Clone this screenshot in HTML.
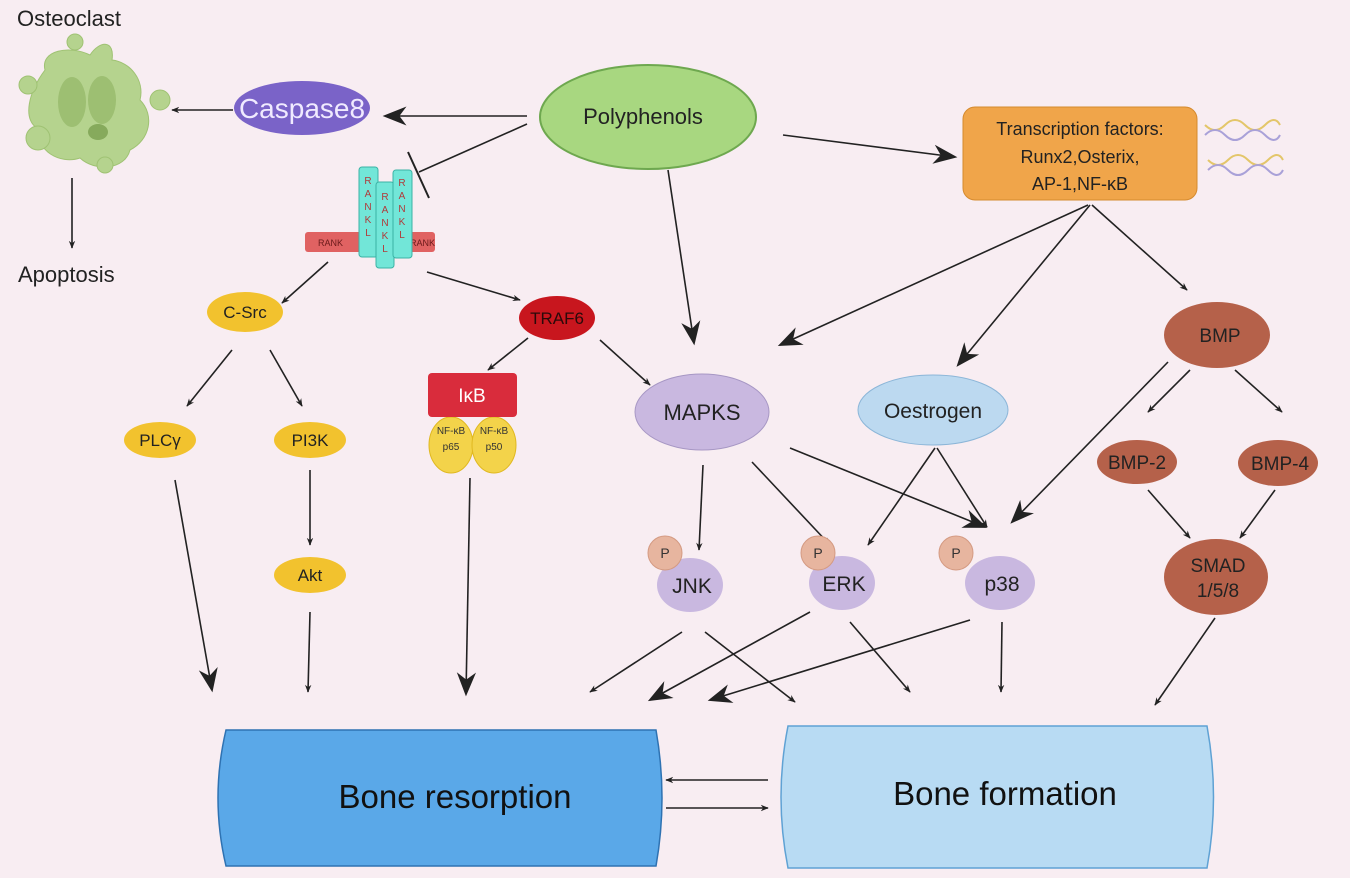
<!DOCTYPE html>
<html><head><meta charset="utf-8"><style>
html,body{margin:0;padding:0;background:#f8edf2;}
svg{display:block;font-family:"Liberation Sans",sans-serif;}
</style></head><body>
<svg width="1350" height="878" viewBox="0 0 1350 878" xmlns="http://www.w3.org/2000/svg">
<defs>
<marker id="a" viewBox="0 0 10 10" refX="9" refY="5" markerWidth="8" markerHeight="8" orient="auto" markerUnits="userSpaceOnUse"><path d="M0,1 L10,5 L0,9 L3,5z" fill="#222"/></marker>
<marker id="b" viewBox="0 0 10 10" refX="9" refY="5" markerWidth="24" markerHeight="24" orient="auto" markerUnits="userSpaceOnUse"><path d="M0,1 L10,5 L0,9 L3,5z" fill="#222"/></marker>
</defs>
<rect width="1350" height="878" fill="#f8edf2"/>
<text x="17" y="26" font-size="22" fill="#222">Osteoclast</text>
<g fill="#b5d38e" stroke="#9fc273" stroke-width="1">
<path d="M45,70 C40,50 70,45 90,55 C100,40 115,40 112,60 C130,62 145,80 140,100 C155,115 150,140 130,150 C125,170 95,172 80,158 C60,165 35,150 40,130 C20,120 30,90 45,70z"/>
<circle cx="28" cy="85" r="9"/><circle cx="160" cy="100" r="10"/><circle cx="38" cy="138" r="12"/><circle cx="105" cy="165" r="8"/><circle cx="75" cy="42" r="8"/>
</g>
<ellipse cx="72" cy="102" rx="14" ry="25" fill="#9dbf72"/><ellipse cx="102" cy="100" rx="14" ry="24" fill="#9dbf72"/><ellipse cx="98" cy="132" rx="10" ry="8" fill="#86aa5c"/>
<text x="18" y="282" font-size="22" fill="#222">Apoptosis</text>
<g stroke="#222" stroke-width="1.6" fill="none">
<line x1="72" y1="178" x2="72" y2="248" marker-end="url(#a)"/>
<line x1="233" y1="110" x2="172" y2="110" marker-end="url(#a)"/>
<line x1="527" y1="116" x2="385" y2="116" marker-end="url(#b)"/>
<line x1="527" y1="124" x2="419" y2="172"/>
<line x1="408" y1="152" x2="429" y2="198" stroke-width="2"/>
<line x1="783" y1="135" x2="955" y2="157" marker-end="url(#b)"/>
<line x1="668" y1="170" x2="694" y2="343" marker-end="url(#b)"/>
<line x1="1088" y1="205" x2="780" y2="345" marker-end="url(#b)"/>
<line x1="1090" y1="205" x2="958" y2="365" marker-end="url(#b)"/>
<line x1="1092" y1="205" x2="1187" y2="290" marker-end="url(#a)"/>
<line x1="328" y1="262" x2="282" y2="303" marker-end="url(#a)"/>
<line x1="427" y1="272" x2="520" y2="300" marker-end="url(#a)"/>
<line x1="232" y1="350" x2="187" y2="406" marker-end="url(#a)"/>
<line x1="270" y1="350" x2="302" y2="406" marker-end="url(#a)"/>
<line x1="310" y1="470" x2="310" y2="545" marker-end="url(#a)"/>
<line x1="175" y1="480" x2="212" y2="690" marker-end="url(#b)"/>
<line x1="310" y1="612" x2="308" y2="692" marker-end="url(#a)"/>
<line x1="470" y1="478" x2="466" y2="694" marker-end="url(#b)"/>
<line x1="528" y1="338" x2="488" y2="370" marker-end="url(#a)"/>
<line x1="600" y1="340" x2="650" y2="385" marker-end="url(#a)"/>
<line x1="703" y1="465" x2="699" y2="550" marker-end="url(#a)"/>
<line x1="752" y1="462" x2="830" y2="545" marker-end="url(#a)"/>
<line x1="790" y1="448" x2="985" y2="527" marker-end="url(#b)"/>
<line x1="935" y1="448" x2="868" y2="545" marker-end="url(#a)"/>
<line x1="937" y1="448" x2="987" y2="527" marker-end="url(#a)"/>
<line x1="1168" y1="362" x2="1012" y2="522" marker-end="url(#b)"/>
<line x1="1190" y1="370" x2="1148" y2="412" marker-end="url(#a)"/>
<line x1="1235" y1="370" x2="1282" y2="412" marker-end="url(#a)"/>
<line x1="1148" y1="490" x2="1190" y2="538" marker-end="url(#a)"/>
<line x1="1275" y1="490" x2="1240" y2="538" marker-end="url(#a)"/>
<line x1="1215" y1="618" x2="1155" y2="705" marker-end="url(#a)"/>
<line x1="682" y1="632" x2="590" y2="692" marker-end="url(#a)"/>
<line x1="705" y1="632" x2="795" y2="702" marker-end="url(#a)"/>
<line x1="810" y1="612" x2="650" y2="700" marker-end="url(#b)"/>
<line x1="850" y1="622" x2="910" y2="692" marker-end="url(#a)"/>
<line x1="970" y1="620" x2="710" y2="700" marker-end="url(#b)"/>
<line x1="1002" y1="622" x2="1001" y2="692" marker-end="url(#a)"/>
<line x1="768" y1="780" x2="666" y2="780" marker-end="url(#a)"/>
<line x1="666" y1="808" x2="768" y2="808" marker-end="url(#a)"/>
</g>
<ellipse cx="302" cy="108" rx="68" ry="27" fill="#7a63c8"/>
<text x="302" y="118" font-size="28" fill="#f0eaff" text-anchor="middle">Caspase8</text>
<ellipse cx="648" cy="117" rx="108" ry="52" fill="#a8d780" stroke="#6ea84f" stroke-width="2"/>
<text x="643" y="124" font-size="22" fill="#222" text-anchor="middle">Polyphenols</text>
<rect x="963" y="107" width="234" height="93" rx="12" fill="#f0a54a" stroke="#d58a2e"/>
<text font-size="18" fill="#222" text-anchor="middle"><tspan x="1080" y="135">Transcription factors:</tspan><tspan x="1080" y="163">Runx2,Osterix,</tspan><tspan x="1080" y="190">AP-1,NF-κB</tspan></text>
<g fill="none" stroke-width="2"><path d="M1205,125 q10,10 20,0 q10,-10 20,0 q10,10 20,0 q10,-10 15,0" stroke="#e3c66a"/><path d="M1205,135 q10,-10 20,0 q10,10 20,0 q10,-10 20,0 q10,10 15,0" stroke="#a9a1d8"/>
<path d="M1208,160 q10,10 20,0 q10,-10 20,0 q10,10 20,0 q10,-10 15,0" stroke="#e3c66a"/><path d="M1208,170 q10,-10 20,0 q10,10 20,0 q10,-10 20,0 q10,10 15,0" stroke="#a9a1d8"/></g>
<rect x="305" y="232" width="130" height="20" rx="3" fill="#e06262"/>
<text x="318" y="246" font-size="9" fill="#6a1a1a">RANK</text><text x="410" y="246" font-size="9" fill="#6a1a1a">RANK</text>
<g fill="#72e6d8" stroke="#3bb3a5"><rect x="359" y="167" width="19" height="90" rx="3"/><rect x="376" y="182" width="18" height="86" rx="3"/><rect x="393" y="170" width="19" height="88" rx="3"/></g>
<g font-size="10" fill="#b03a3a" text-anchor="middle">
<text x="368" y="184">R</text><text x="368" y="197">A</text><text x="368" y="210">N</text><text x="368" y="223">K</text><text x="368" y="236">L</text>
<text x="385" y="200">R</text><text x="385" y="213">A</text><text x="385" y="226">N</text><text x="385" y="239">K</text><text x="385" y="252">L</text>
<text x="402" y="186">R</text><text x="402" y="199">A</text><text x="402" y="212">N</text><text x="402" y="225">K</text><text x="402" y="238">L</text>
</g>
<g fill="#f2c22e"><ellipse cx="245" cy="312" rx="38" ry="20"/><ellipse cx="160" cy="440" rx="36" ry="18"/><ellipse cx="310" cy="440" rx="36" ry="18"/><ellipse cx="310" cy="575" rx="36" ry="18"/></g>
<g font-size="17" fill="#222" text-anchor="middle"><text x="245" y="318">C-Src</text><text x="160" y="446">PLCγ</text><text x="310" y="446">PI3K</text><text x="310" y="581">Akt</text></g>
<ellipse cx="557" cy="318" rx="38" ry="22" fill="#c8161e"/>
<text x="557" y="324" font-size="17" fill="#2a0a0a" text-anchor="middle">TRAF6</text>
<ellipse cx="451" cy="445" rx="22" ry="28" fill="#f3d34a" stroke="#e0b820"/><ellipse cx="494" cy="445" rx="22" ry="28" fill="#f3d34a" stroke="#e0b820"/>
<rect x="428" y="373" width="89" height="44" rx="4" fill="#d92c3c"/>
<text x="472" y="402" font-size="19" fill="#fff" text-anchor="middle">IκB</text>
<g font-size="10" fill="#333" text-anchor="middle"><text x="451" y="434">NF-κB</text><text x="451" y="450">p65</text><text x="494" y="434">NF-κB</text><text x="494" y="450">p50</text></g>
<ellipse cx="702" cy="412" rx="67" ry="38" fill="#c9b8e0" stroke="#a797c4"/>
<text x="702" y="420" font-size="22" fill="#222" text-anchor="middle">MAPKS</text>
<ellipse cx="933" cy="410" rx="75" ry="35" fill="#bcd9f0" stroke="#8cb6d8"/>
<text x="933" y="418" font-size="21" fill="#222" text-anchor="middle">Oestrogen</text>
<g fill="#b5614a"><ellipse cx="1217" cy="335" rx="53" ry="33"/><ellipse cx="1137" cy="462" rx="40" ry="22"/><ellipse cx="1278" cy="463" rx="40" ry="23"/><ellipse cx="1216" cy="577" rx="52" ry="38"/></g>
<g font-size="19" fill="#222" text-anchor="middle"><text x="1220" y="342">BMP</text><text x="1137" y="469">BMP-2</text><text x="1280" y="470">BMP-4</text><text x="1218" y="572">SMAD</text><text x="1218" y="597">1/5/8</text></g>
<g fill="#c9b8e0"><ellipse cx="690" cy="585" rx="33" ry="27"/><ellipse cx="842" cy="583" rx="33" ry="27"/><ellipse cx="1000" cy="583" rx="35" ry="27"/></g>
<g fill="#e7b59f" stroke="#d49a82"><circle cx="665" cy="553" r="17"/><circle cx="818" cy="553" r="17"/><circle cx="956" cy="553" r="17"/></g>
<g font-size="14" fill="#333" text-anchor="middle"><text x="665" y="558">P</text><text x="818" y="558">P</text><text x="956" y="558">P</text></g>
<g font-size="21" fill="#222" text-anchor="middle"><text x="692" y="593">JNK</text><text x="844" y="591">ERK</text><text x="1002" y="591">p38</text></g>
<path d="M226,730 L656,730 Q668,798 656,866 L226,866 Q210,798 226,730z" fill="#5aa8e8" stroke="#2e72b2" stroke-width="1.5"/>
<text x="455" y="808" font-size="33" fill="#111" text-anchor="middle">Bone resorption</text>
<path d="M788,726 L1207,726 Q1220,797 1207,868 L788,868 Q774,797 788,726z" fill="#b8dbf3" stroke="#5fa2d4" stroke-width="1.5"/>
<text x="1005" y="805" font-size="33" fill="#111" text-anchor="middle">Bone formation</text>
</svg>
</body></html>
